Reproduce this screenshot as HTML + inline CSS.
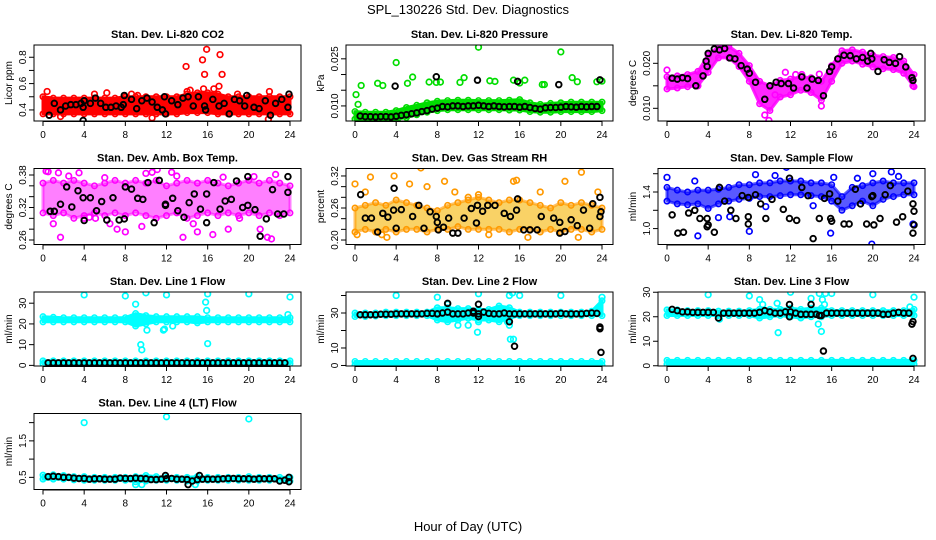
<!DOCTYPE html>
<html><head><meta charset="utf-8"><style>
html,body{margin:0;padding:0;background:#fff}
svg{display:block;font-family:"Liberation Sans",Arial,sans-serif}
</style></head><body>
<svg id="chart" width="936" height="540" viewBox="0 0 936 540" xmlns="http://www.w3.org/2000/svg">
<rect x="0" y="0" width="936" height="540" fill="#fff"/>
<text x="468" y="14" font-size="13" text-anchor="middle">SPL_130226  Std. Dev. Diagnostics</text>
<text x="468" y="531" font-size="13" text-anchor="middle">Hour of Day (UTC)</text>
</svg>
<script>
// ---------- data ----------
const xTicks = [0,4,8,12,16,20,24];
const halfHours = [0.5,1,1.5,2,2.5,3,3.5,4,4.5,5,5.5,6,6.5,7,7.5,8,8.5,9,9.5,10,10.5,11,11.5,12,12.5,13,13.5,14,14.5,15,15.5,16,16.5,17,17.5,18,18.5,19,19.5,20,20.5,21,21.5,22,22.5,23,23.5];
const bandHours = [0,1,2,3,4,5,6,7,8,9,10,11,12,13,14,15,16,17,18,19,20,21,22,23,24];

// Panel 1: CO2
const co2Lo = [0.37,0.37,0.37,0.37,0.37,0.37,0.37,0.37,0.37,0.37,0.37,0.37,0.37,0.37,0.38,0.38,0.38,0.37,0.37,0.37,0.37,0.37,0.37,0.37,0.37];
const co2Hi = [0.50,0.49,0.49,0.49,0.49,0.49,0.49,0.49,0.50,0.50,0.50,0.50,0.50,0.50,0.52,0.53,0.53,0.52,0.50,0.50,0.50,0.50,0.50,0.50,0.50];
const co2OutX = [0.4,13.9,14,14.3,15.5,15.7,15.9,17.2,17.4,17.1,15.6,16.6,21.9,10.6,1.7,8.6,9.2,18.9,22,6.2,5];
const co2OutY = [0.54,0.73,0.54,0.55,0.78,0.67,0.86,0.82,0.67,0.58,0.56,0.56,0.33,0.34,0.35,0.52,0.51,0.52,0.54,0.53,0.52];
const co2BlkX = [0.6,1.1,1.7,2.2,2.7,3.2,3.7,3.9,3.9,4.0,4.6,5.1,5.6,6.1,6.6,7.1,7.6,7.9,7.8,8.6,9.1,9.6,10.1,10.6,11.1,11.6,11.8,11.9,12.5,13.1,13.6,14.1,14.6,15.1,15.7,15.8,16.5,17.1,17.6,18.1,18.6,19.1,19.6,19.8,20.5,21.0,21.6,22.1,22.6,23.2,23.8,23.9];
const co2BlkY = [0.36,0.45,0.40,0.43,0.44,0.44,0.45,0.42,0.32,0.47,0.45,0.49,0.45,0.42,0.42,0.43,0.42,0.51,0.44,0.48,0.41,0.47,0.49,0.46,0.42,0.40,0.50,0.37,0.47,0.44,0.49,0.50,0.43,0.50,0.43,0.40,0.48,0.43,0.45,0.37,0.48,0.47,0.43,0.51,0.42,0.41,0.47,0.36,0.45,0.48,0.42,0.52];

// Panel 2: pressure
const presLo = [0.0058,0.0057,0.0057,0.0057,0.0058,0.0063,0.0072,0.0080,0.0085,0.0088,0.0088,0.0088,0.0088,0.0088,0.0088,0.0087,0.0087,0.0082,0.0080,0.0080,0.0082,0.0082,0.0082,0.0082,0.0085];
const presHi = [0.0082,0.0080,0.0080,0.0080,0.0085,0.0095,0.0102,0.0110,0.0115,0.0117,0.0118,0.0118,0.0117,0.0117,0.0117,0.0118,0.0120,0.0110,0.0105,0.0108,0.0110,0.0112,0.0112,0.0112,0.0112];
const presOutX = [0.1,0.6,0.3,2.2,2.7,4.0,5.1,5.6,7.2,7.9,8.3,10.2,10.6,12.0,13.1,13.6,15.4,16.0,16.5,18.2,18.4,20.0,21.1,21.6,23.5,24.0,4.1];
const presOutY = [0.0136,0.0165,0.0105,0.0172,0.0165,0.0238,0.0172,0.0192,0.0176,0.0175,0.0176,0.0175,0.0190,0.0287,0.0180,0.0178,0.0182,0.0173,0.0182,0.0168,0.0168,0.0272,0.0190,0.0177,0.0177,0.0179,0.0055];
const presBlkY = [0.0068,0.0066,0.0066,0.0065,0.0066,0.0066,0.0065,0.0067,0.0070,0.0072,0.0075,0.0078,0.0082,0.0085,0.0090,0.0093,0.0098,0.0097,0.0100,0.0100,0.0098,0.0100,0.0100,0.0102,0.0100,0.0098,0.0100,0.0098,0.0097,0.0098,0.0098,0.0096,0.0098,0.0095,0.0092,0.0090,0.0094,0.0095,0.0095,0.0096,0.0098,0.0097,0.0096,0.0098,0.0097,0.0098,0.0098];
const presExtraX = [3.9,7.9,11.9,15.8,19.8,23.8];
const presExtraY = [0.0163,0.0193,0.0182,0.0178,0.0168,0.0183];

// Panel 3: Li-820 temp
const ltLo = [0.0143,0.0145,0.0148,0.0150,0.0180,0.0212,0.0212,0.0193,0.0160,0.0110,0.0095,0.0125,0.0130,0.0140,0.0135,0.0118,0.0160,0.0200,0.0205,0.0198,0.0192,0.0188,0.0186,0.0178,0.0148];
const ltHi = [0.0170,0.0172,0.0175,0.0182,0.0218,0.0238,0.0238,0.0222,0.0195,0.0160,0.0150,0.0162,0.0165,0.0170,0.0168,0.0160,0.0195,0.0228,0.0230,0.0225,0.0218,0.0215,0.0213,0.0205,0.0175];
const ltOutX = [0,3,9.9,10.5,13.1,14.8,15.0,12.5,11.5,23.9,9.5];
const ltOutY = [0.0185,0.0150,0.0073,0.0130,0.0175,0.0176,0.0105,0.0175,0.0180,0.0150,0.0085];
const ltBlkX = [0.5,1,1.5,2,2.8,3.5,3.8,3.9,4,4.6,5.1,5.6,6.1,6.6,7.2,7.8,8,8.6,9.5,10,10.6,11.1,11.8,12.3,13.1,13.6,14.1,14.7,15.2,15.8,16,16.6,17.2,17.8,18.4,19,19.5,19.8,19.9,20.5,21.1,21.6,22.2,22.6,23.2,23.8,23.9];
const ltBlkY = [0.0167,0.0165,0.0168,0.0166,0.0150,0.0172,0.0205,0.0193,0.0222,0.0232,0.0230,0.0233,0.0212,0.0210,0.0195,0.0187,0.0178,0.0158,0.0120,0.0150,0.0158,0.0155,0.0155,0.0145,0.0170,0.0145,0.0165,0.0162,0.0128,0.0182,0.0192,0.0210,0.0218,0.0217,0.0210,0.0213,0.0205,0.0222,0.0210,0.0182,0.0208,0.0202,0.0200,0.0215,0.0192,0.0168,0.0162];

// Panel 4: amb box temp
const abLo = [0.31,0.305,0.31,0.30,0.305,0.31,0.305,0.31,0.305,0.31,0.305,0.30,0.305,0.31,0.30,0.305,0.31,0.305,0.31,0.305,0.31,0.305,0.31,0.305,0.31];
const abHi = [0.365,0.37,0.365,0.37,0.365,0.36,0.365,0.37,0.365,0.37,0.365,0.37,0.36,0.365,0.37,0.365,0.37,0.365,0.36,0.365,0.37,0.365,0.37,0.365,0.36];
const abOutX = [0.3,0.5,1.5,1.7,1,3.5,4,4.5,5.1,6.5,7.2,8,10,10.6,11.1,12.5,13.6,15,16.5,18,19.1,21.1,21.8,22.2,22.6,9.6,14.6,2.5,6,13,17.5,20.5];
const abOutY = [0.387,0.386,0.384,0.265,0.29,0.384,0.30,0.302,0.30,0.29,0.28,0.275,0.383,0.385,0.39,0.385,0.265,0.275,0.27,0.28,0.30,0.28,0.265,0.262,0.381,0.285,0.29,0.378,0.375,0.378,0.376,0.377];
const abBlkX = [0.7,1.1,1.7,2.3,2.8,3.4,3.9,4.0,4.6,5.2,5.7,6.2,6.8,7.4,7.9,8.0,8.6,9.2,9.7,10.2,10.8,11.3,11.9,11.9,12.6,13.1,13.7,14.2,14.7,15.3,15.9,15.9,16.6,17.2,17.7,18.3,18.8,19.4,19.9,19.9,20.6,21.1,21.7,22.3,22.8,23.4,23.8,23.8];
const abBlkY = [0.313,0.313,0.326,0.358,0.321,0.351,0.338,0.296,0.338,0.314,0.331,0.297,0.338,0.297,0.299,0.358,0.354,0.337,0.335,0.366,0.292,0.370,0.326,0.324,0.337,0.314,0.302,0.329,0.345,0.317,0.345,0.292,0.366,0.317,0.332,0.335,0.369,0.320,0.324,0.377,0.316,0.267,0.299,0.353,0.308,0.308,0.377,0.348];

// Panel 5: gas stream RH
const rhLo = [0.215,0.22,0.215,0.22,0.215,0.22,0.22,0.215,0.22,0.22,0.225,0.22,0.22,0.22,0.22,0.215,0.22,0.22,0.215,0.22,0.215,0.22,0.22,0.215,0.22];
const rhHi = [0.26,0.265,0.27,0.265,0.275,0.27,0.265,0.26,0.255,0.265,0.27,0.275,0.28,0.275,0.27,0.275,0.275,0.27,0.265,0.26,0.27,0.265,0.27,0.265,0.26];
const rhOutX = [0,0.2,1.5,2.6,3.8,5.3,6.4,8.7,9.7,11,15.4,15.7,16.8,20.4,21.7,22.0,23.6,3.1,13,1,7,18,12];
const rhOutY = [0.305,0.21,0.318,0.21,0.32,0.305,0.335,0.31,0.29,0.28,0.31,0.312,0.205,0.31,0.205,0.327,0.29,0.205,0.21,0.29,0.30,0.29,0.285];
const rhBlkX = [0.55,1,1.6,2.2,2.7,3.2,3.75,3.8,4,4.5,5.6,6.2,6.7,7.3,7.9,8,8.1,8.6,9.1,9.5,10,10.6,11.3,11.8,11.9,12.4,12.9,13.6,14.5,15.1,15.7,15.8,16.4,17,17.7,18.1,19.3,19.9,19.9,20.4,21,21.6,22.2,22.8,23.1,23.8,23.9,23.8];
const rhBlkY = [0.285,0.241,0.241,0.215,0.25,0.243,0.256,0.297,0.222,0.257,0.244,0.265,0.222,0.253,0.244,0.233,0.219,0.224,0.241,0.213,0.213,0.241,0.259,0.232,0.265,0.254,0.265,0.265,0.25,0.244,0.256,0.277,0.219,0.219,0.219,0.244,0.241,0.233,0.213,0.216,0.238,0.227,0.256,0.222,0.268,0.28,0.253,0.244];

// Panel 6: sample flow
const sfLo = [1.30,1.27,1.26,1.27,1.22,1.27,1.30,1.32,1.33,1.35,1.35,1.36,1.37,1.37,1.36,1.35,1.30,1.20,1.25,1.30,1.25,1.32,1.35,1.37,1.37];
const sfHi = [1.45,1.42,1.40,1.42,1.42,1.43,1.45,1.48,1.48,1.50,1.50,1.52,1.52,1.52,1.50,1.50,1.48,1.35,1.45,1.47,1.50,1.52,1.50,1.50,1.50];
const sfOutX = [0,3.0,5,6.5,7.1,8.6,12.6,11.6,8,15.9,19.9,20,21.8,23.9,14.2,6.1,9.6,2.7,10.5,16.2,18.5,22.5];
const sfOutY = [1.56,0.92,1.12,1.70,1.69,1.59,1.73,1.67,0.97,0.95,0.83,1.60,1.62,1.05,1.25,1.13,1.24,1.52,1.58,1.56,1.55,1.57];
const sfBlkX = [0.5,1.05,1.6,2.1,2.7,3.2,3.9,3.9,4,4.6,5.1,5.6,6.2,6.7,7.3,7.9,7.9,7.9,8.6,9.1,9.6,10.2,11.3,11.9,11.9,12.6,13.1,13.7,14.2,14.8,15.3,15.8,15.9,16,16.6,17.2,17.7,18.3,18.8,19.4,19.9,20,20.1,20.7,21.2,21.7,22.3,22.9,23.4,23.9,24,23.9,24];
const sfBlkY = [1.15,0.95,0.96,1.17,1.20,1.11,1.11,1.02,1.04,0.96,1.45,1.30,1.20,1.11,1.36,1.34,1.13,1.05,1.37,1.27,1.11,1.32,1.21,1.55,1.11,1.09,1.45,1.36,0.89,1.11,1.33,1.38,1.11,1.08,1.30,1.05,1.05,1.43,1.27,1.05,1.35,1.36,1.04,1.11,1.37,1.47,1.07,1.13,1.41,1.27,1.19,0.95,1.04];

// Panel 7: line 1 flow
const l1TopLo = [21,21,21,21,21,21,21,21,21,19,20,21,21,21,21,20.5,21,21,21,21,21,21,21,21,21];
const l1TopHi = [23.5,23.2,23,23,23,23,23,23,23,25,24,23.5,23.5,23.5,23.5,23.5,23,23,23,23,23,23,23,23,23];
const l1BotLo = [0.8,0.8,0.8,0.8,0.8,0.8,0.8,0.8,0.8,0.8,0.8,0.8,0.8,0.8,0.8,0.8,0.8,0.8,0.8,0.8,0.8,0.8,0.8,0.8,0.8];
const l1BotHi = [2.2,2.2,2.2,2.2,2.2,2.2,2.2,2.2,2.2,2.2,2.2,2.2,2.2,2.2,2.2,2.2,2.2,2.2,2.2,2.2,2.2,2.2,2.2,2.2,2.2];
const l1OutX = [4,8,10,12,16,20,24,9,9.5,9.6,10.1,11.7,12.6,15.8,15.9,16,11.8,23.8];
const l1OutY = [34,33.5,35,34,34.5,34.5,33,29.5,10,7.5,17,17,19,30.5,26.5,10.5,17.5,24.5];
const l1BlkY = [1.2,1.2,1.2,1.2,1.2,1.2,1.2,1.2,1.2,1.2,1.2,1.2,1.2,1.2,1.2,1.2,1.2,1.2,1.2,1.2,1.2,1.2,1.2,1.2,1.2,1.2,1.2,1.2,1.2,1.2,1.2,1.2,1.2,1.2,1.2,1.2,1.2,1.2,1.2,1.2,1.2,1.2,1.2,1.2,1.2,1.2,1.2];

// Panel 8: line 2 flow
const l2TopLo = [28,28,28.3,28.5,28.5,28.5,28.5,28.5,26,25,26,27,26,26,25,27,28.5,28.5,28.5,28.5,28.5,28.5,28.5,28.5,28.5];
const l2TopHi = [30,30,30,30.5,30.5,30.5,30.5,30.5,33,33,32.5,32.5,32,32,34,33,30.5,30.5,30.5,30.5,30.5,30.5,30.5,31,37];
const l2BotLo = [0.3,0.3,0.3,0.3,0.3,0.3,0.3,0.3,0.3,0.3,0.3,0.3,0.3,0.3,0.3,0.3,0.3,0.3,0.3,0.3,0.3,0.3,0.3,0.3,0.3];
const l2BotHi = [2.3,2.3,2.3,2.3,2.3,2.3,2.3,2.3,2.3,2.3,2.3,2.3,2.3,2.3,2.3,2.3,2.3,2.3,2.3,2.3,2.3,2.3,2.3,2.3,2.3];
const l2OutX = [4,8,9,10,11,11.9,12,12,15,15.3,15.1,15.4,16,20,24,14.8,15,8.7,13.8];
const l2OutY = [40,39,35,23,23,19,41,25,40,41.5,15,15,40,40,39,25,23,27,27];
const l2BlkY = [29,29,29,29,29.3,29.3,29.3,29.5,29.5,29.5,29.5,29.5,29.5,29.8,29.8,29.5,30,30.5,29.5,29.5,29.5,30,30,29.5,30.5,29.8,29.5,29.5,30,29.5,29.5,29.5,29.5,29.5,29.5,29.5,29.5,29.5,29.5,29.8,29.5,29.5,29.5,29.5,29.8,30,29.8];
const l2ExtraX = [9,12,12,15.5,15,23.8,23.9,23.8,8,11.5];
const l2ExtraY = [35.5,35,28,11,25,22,7.5,21,29.5,31];

// Panel 9: line 3 flow
const l3TopLo = [20.5,20.5,20.5,20.5,20.5,20.5,20.5,20.5,20.5,19.5,20,20.5,20,19.5,20,20,20.5,20.5,20.5,20.5,20.5,20.5,20.5,20.5,20.5];
const l3TopHi = [22.8,22.8,22.5,22.5,22.5,22.3,22.3,22.3,22.5,23,23,23,23.5,23,23.5,23.5,22.5,22.5,22.5,22.5,22.5,22.5,22.5,22.5,23];
const l3BotLo = [0.6,0.6,0.6,0.6,0.6,0.6,0.6,0.6,0.6,0.6,0.6,0.6,0.6,0.6,0.6,0.6,0.6,0.6,0.6,0.6,0.6,0.6,0.6,0.6,0.6];
const l3BotHi = [2.2,2.2,2.2,2.2,2.2,2.2,2.2,2.2,2.2,2.2,2.2,2.2,2.2,2.2,2.2,2.2,2.2,2.2,2.2,2.2,2.2,2.2,2.2,2.2,2.2];
const l3OutX = [4,8,9,9.3,10.7,10.8,12,14,14.8,14.7,15,15.1,15.4,15.3,16,20,23.6,24,5.1];
const l3OutY = [29,28.5,27,25,25.5,13.5,30,27.5,29.5,17,14,27,29.5,25,29.5,29,24,28,19];
const l3BlkY = [23,22.5,22,22,21.8,21.8,21.8,21.8,21.8,19.5,21.5,21.5,21.5,21.5,21.5,21.5,21.5,21.8,22.5,22,21.5,21.5,22,22,21.5,21,21,21,21,20.5,21.5,21.5,21.5,21.5,21.5,21.5,21.5,21.5,21.5,21.5,21.5,21,21,21.5,21.8,21.5,21.5];
const l3ExtraX = [11.9,11.9,14,15.2,23.9,23.8,23.9,14.8];
const l3ExtraY = [25,20,25,6,18,17,3,20.5];

// Panel 10: line 4 flow
const l4Lo = [0.45,0.45,0.45,0.43,0.42,0.42,0.42,0.42,0.42,0.38,0.40,0.42,0.42,0.42,0.40,0.40,0.42,0.42,0.42,0.42,0.42,0.42,0.42,0.42,0.40];
const l4Hi = [0.56,0.57,0.55,0.52,0.52,0.50,0.50,0.50,0.50,0.52,0.55,0.52,0.50,0.50,0.50,0.52,0.50,0.50,0.50,0.50,0.52,0.50,0.50,0.50,0.50];
const l4OutX = [4,12,20,9,9.6,14.8];
const l4OutY = [2.0,2.16,2.1,0.3,0.3,0.3];
const l4BlkY = [0.52,0.53,0.52,0.5,0.5,0.48,0.47,0.47,0.45,0.46,0.46,0.45,0.45,0.45,0.48,0.47,0.47,0.48,0.47,0.46,0.44,0.44,0.45,0.46,0.47,0.45,0.45,0.44,0.40,0.44,0.45,0.45,0.45,0.45,0.46,0.47,0.47,0.46,0.46,0.46,0.45,0.46,0.46,0.46,0.46,0.40,0.42];
const l4ExtraX = [14.1,15.2,11.9,23.9,23.9];
const l4ExtraY = [0.3,0.55,0.55,0.38,0.5];

// ---------- drawing ----------
const NS = "http://www.w3.org/2000/svg";
const svg = document.getElementById("chart");
function mk(tag, attrs, parent){
  const e = document.createElementNS(NS, tag);
  for (const k in attrs) e.setAttribute(k, attrs[k]);
  (parent||svg).appendChild(e);
  return e;
}
const rowTops = [45,168.5,292,413.5];
const rowBots = [121,244.5,366,489.5];

const panels = [
  {key:"co2", title:"Stan. Dev. Li-820 CO2", ylab:"Licor ppm", col:0,row:0, yTop:0.893,yBot:0.316, ticks:[0.4,0.5,0.6,0.7,0.8], labels:["0.4","","0.6","","0.8"], color:"#ff0000", op:1,
    bands:[[co2Lo,co2Hi]], outX:co2OutX,outY:co2OutY, blkX:co2BlkX, blkY:co2BlkY},
  {key:"pressure", title:"Stan. Dev. Li-820 Pressure", ylab:"kPa", col:1,row:0, yTop:0.0294,yBot:0.0052, ticks:[0.010,0.015,0.020,0.025], labels:["0.010","","","0.025"], color:"#00dd00", op:1,
    bands:[[presLo,presHi]], outX:presOutX,outY:presOutY, blkX:halfHours.concat(presExtraX), blkY:presBlkY.concat(presExtraY)},
  {key:"li-temp", title:"Stan. Dev. Li-820 Temp.", ylab:"degrees C", col:2,row:0, yTop:0.02407,yBot:0.00718, ticks:[0.010,0.015,0.020], labels:["0.010","","0.020"], color:"#ff00ff", op:0.85,
    bands:[[ltLo,ltHi]], outX:ltOutX,outY:ltOutY, blkX:ltBlkX, blkY:ltBlkY},
  {key:"amb-temp", title:"Stan. Dev. Amb. Box Temp.", ylab:"degrees C", col:0,row:1, yTop:0.392,yBot:0.2517, ticks:[0.26,0.28,0.30,0.32,0.34,0.36,0.38], labels:["0.26","","","0.32","","","0.38"], color:"#ff00ff", op:0.5,
    bands:[[abLo,abHi]], outX:abOutX,outY:abOutY, blkX:abBlkX, blkY:abBlkY},
  {key:"rh", title:"Stan. Dev. Gas Stream RH", ylab:"percent", col:1,row:1, yTop:0.334,yBot:0.1916, ticks:[0.20,0.22,0.24,0.26,0.28,0.30,0.32], labels:["0.20","","","0.26","","","0.32"], color:"#f5b400", edge:"#ff9900", op:0.6,
    bands:[[rhLo,rhHi]], outX:rhOutX,outY:rhOutY, blkX:rhBlkX, blkY:rhBlkY},
  {key:"sample-flow", title:"Stan. Dev. Sample Flow", ylab:"ml/min", col:2,row:1, yTop:1.657,yBot:0.826, ticks:[1.0,1.2,1.4,1.6], labels:["1.0","","1.4",""], color:"#0000ff", op:0.65,
    bands:[[sfLo,sfHi]], outX:sfOutX,outY:sfOutY, blkX:sfBlkX, blkY:sfBlkY},
  {key:"line1", title:"Stan. Dev. Line 1 Flow", ylab:"ml/min", col:0,row:2, yTop:35.4,yBot:-0.3, ticks:[0,10,20,30], labels:["0","10","20","30"], color:"#00ffff", op:1,
    bands:[[l1TopLo,l1TopHi],[l1BotLo,l1BotHi]], outX:l1OutX,outY:l1OutY, blkX:halfHours, blkY:l1BlkY},
  {key:"line2", title:"Stan. Dev. Line 2 Flow", ylab:"ml/min", col:1,row:2, yTop:42,yBot:-0.3, ticks:[0,10,20,30,40], labels:["0","10","","30",""], color:"#00ffff", op:1,
    bands:[[l2TopLo,l2TopHi],[l2BotLo,l2BotHi]], outX:l2OutX,outY:l2OutY, blkX:halfHours.concat(l2ExtraX), blkY:l2BlkY.concat(l2ExtraY)},
  {key:"line3", title:"Stan. Dev. Line 3 Flow", ylab:"ml/min", col:2,row:2, yTop:30.1,yBot:-0.1, ticks:[0,10,20,30], labels:["0","10","20","30"], color:"#00ffff", op:1,
    bands:[[l3TopLo,l3TopHi],[l3BotLo,l3BotHi]], outX:l3OutX,outY:l3OutY, blkX:halfHours.concat(l3ExtraX), blkY:l3BlkY.concat(l3ExtraY)},
  {key:"line4", title:"Stan. Dev. Line 4 (LT) Flow", ylab:"ml/min", col:0,row:3, yTop:2.25,yBot:0.167, ticks:[0.5,1.0,1.5,2.0], labels:["0.5","","1.5",""], color:"#00ffff", op:1,
    bands:[[l4Lo,l4Hi]], outX:l4OutX,outY:l4OutY, blkX:halfHours.concat(l4ExtraX), blkY:l4BlkY.concat(l4ExtraY)}
];

panels.forEach(p => {
  const L = 34 + 312*p.col, R = 301 + 312*p.col;
  const T = rowTops[p.row], B = rowBots[p.row];
  const x0 = 43 + 312*p.col, xw = 247;
  const xs = h => x0 + h/24*xw;
  const ys = v => T + (p.yTop - v)/(p.yTop - p.yBot)*(B - T);
  const g = mk("g", {});
  
  
  const clip = mk("clipPath", {id:"clip-"+p.key}, g);
  mk("rect", {x:L, y:T, width:R-L, height:B-T}, clip);
  const plot = mk("g", {"clip-path":"url(#clip-"+p.key+")"}, g);
  
  
  const edge = p.edge || p.color;
  p.bands.forEach((bd, bi) => {
    const lo = bd[0], hi = bd[1];
    let d = "";
    bandHours.forEach((h,i) => { d += (i? "L":"M") + xs(h).toFixed(1) + "," + ys(hi[i]).toFixed(1); });
    for (let i = bandHours.length-1; i >= 0; i--) d += "L" + xs(bandHours[i]).toFixed(1) + "," + ys(lo[i]).toFixed(1);
    const band = mk("path", {d:d+"Z", fill:p.color, "fill-opacity":p.op, stroke:edge, "stroke-opacity":p.op, "stroke-width":3, "stroke-linejoin":"round"}, plot);
    
    
    bandHours.forEach((h,i) => {
      [lo[i], hi[i]].forEach(v => {
        const c = mk("circle", {cx:xs(h), cy:ys(v), r:2.7, fill:"none", stroke:edge, "stroke-width":1.6}, plot);
        
        
      });
    });
  });
  p.outX.forEach((h,i) => {
    const c = mk("circle", {cx:xs(h), cy:ys(p.outY[i]), r:2.8, fill:"none", stroke:edge, "stroke-width":1.7}, plot);
    
    
  });
  p.blkX.forEach((h,i) => {
    const c = mk("circle", {cx:xs(h), cy:ys(p.blkY[i]), r:2.8, fill:"none", stroke:"#000", "stroke-width":1.9}, plot);
    
    
  });
  const fr = mk("rect", {x:L, y:T, width:R-L, height:B-T, fill:"none", stroke:"#000", "stroke-width":1}, g);
  
  
  const tt = mk("text", {x:(L+R)/2, y:T-7, "font-size":11, "font-weight":"bold", "text-anchor":"middle"}, g);
  tt.textContent = p.title;
  
  
  const yl = mk("text", {x:0, y:0, "font-size":10, "text-anchor":"middle", transform:"translate("+(L-22)+","+((T+B)/2)+") rotate(-90)"}, g);
  yl.textContent = p.ylab;
  
  
  mk("line", {x1:xs(0), x2:xs(24), y1:B+0.5, y2:B+0.5, stroke:"#000"}, g);
  xTicks.forEach(t => {
    mk("line", {x1:xs(t), x2:xs(t), y1:B, y2:B+5, stroke:"#000"}, g);
    const tx = mk("text", {x:xs(t), y:B+17, "font-size":10, "text-anchor":"middle"}, g);
    tx.textContent = t;
    
    
  });
  mk("line", {x1:L, x2:L, y1:ys(p.ticks[0]), y2:ys(p.ticks[p.ticks.length-1]), stroke:"#000"}, g);
  p.ticks.forEach((t,i) => {
    const y = ys(t);
    mk("line", {x1:L-5, x2:L, y1:y, y2:y, stroke:"#000"}, g);
    if (p.labels[i]) {
      const ty = mk("text", {x:0, y:0, "font-size":10, "text-anchor":"middle", transform:"translate("+(L-8)+","+y+") rotate(-90)"}, g);
      ty.textContent = p.labels[i];
      
      
    }
  });
});
</script>
</body></html>
